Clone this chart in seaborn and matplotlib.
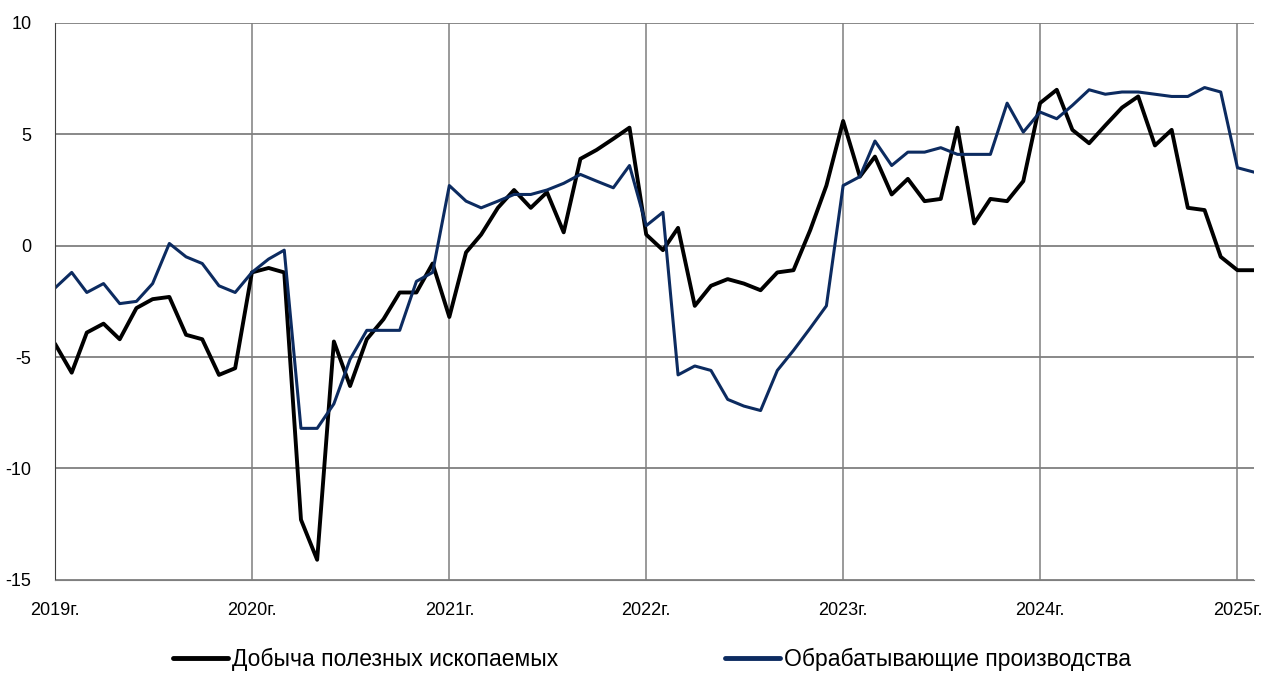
import matplotlib
matplotlib.use("Agg")
import matplotlib.pyplot as plt
import pandas as pd
import seaborn as sns

# monthly values, Jan 2019 .. Feb 2025
mining = [
    -4.4, -5.7, -3.9, -3.5, -4.2, -2.8, -2.4, -2.3, -4.0, -4.2, -5.8, -5.5,
    -1.2, -1.0, -1.2, -12.3, -14.1, -4.3, -6.3, -4.2, -3.3, -2.1, -2.1, -0.8,
    -3.2, -0.3, 0.5, 1.7, 2.5, 1.7, 2.4, 0.6, 3.9, 4.3, 4.8, 5.3,
    0.5, -0.2, 0.8, -2.7, -1.8, -1.5, -1.7, -2.0, -1.2, -1.1, 0.7, 2.7,
    5.6, 3.1, 4.0, 2.3, 3.0, 2.0, 2.1, 5.3, 1.0, 2.1, 2.0, 2.9,
    6.4, 7.0, 5.2, 4.6, 5.4, 6.2, 6.7, 4.5, 5.2, 1.7, 1.6, -0.5,
    -1.1, -1.1,
]
manufacturing = [
    -1.9, -1.2, -2.1, -1.7, -2.6, -2.5, -1.7, 0.1, -0.5, -0.8, -1.8, -2.1,
    -1.2, -0.6, -0.2, -8.2, -8.2, -7.1, -5.1, -3.8, -3.8, -3.8, -1.6, -1.2,
    2.7, 2.0, 1.7, 2.0, 2.3, 2.3, 2.5, 2.8, 3.2, 2.9, 2.6, 3.6,
    0.9, 1.5, -5.8, -5.4, -5.6, -6.9, -7.2, -7.4, -5.6, -4.7, -3.7, -2.7,
    2.7, 3.1, 4.7, 3.6, 4.2, 4.2, 4.4, 4.1, 4.1, 4.1, 6.4, 5.1,
    6.0, 5.7, 6.3, 7.0, 6.8, 6.9, 6.9, 6.8, 6.7, 6.7, 7.1, 6.9,
    3.5, 3.3,
]
series_names = ["Добыча полезных ископаемых", "Обрабатывающие производства"]
series_colors = ["#000000", "#0c2b60"]
years = [2019, 2020, 2021, 2022, 2023, 2024, 2025]
y_ticks = [10, 5, 0, -5, -10, -15]

months = pd.date_range("2019-01-01", periods=len(mining), freq="MS")
df = pd.concat([
    pd.DataFrame({"date": months, "value": mining, "series": series_names[0]}),
    pd.DataFrame({"date": months, "value": manufacturing, "series": series_names[1]}),
])

sns.set_style("white")
plt.rcParams["font.family"] = ["Liberation Sans", "DejaVu Sans"]
plt.rcParams["text.color"] = "black"
plt.rcParams["xtick.color"] = "black"
plt.rcParams["ytick.color"] = "black"

fig = plt.figure(figsize=(12.61, 6.75), dpi=100)
ax = fig.add_axes([0.0436, 0.141, 0.951, 0.825])

sns.lineplot(data=df, x="date", y="value", hue="series",
             palette=dict(zip(series_names, series_colors)),
             ax=ax, legend=False)
for line, lw in zip(ax.get_lines(), [2.8, 2.2]):
    line.set_linewidth(lw)

ax.set_xlim(months[0], months[-1])
ax.set_ylim(-15, 10)
ax.set_yticks(y_ticks)
ax.set_yticklabels([str(v) for v in y_ticks], fontsize=13)
year_dates = [pd.Timestamp(f"{y}-01-01") for y in years]
ax.set_xticks(year_dates)
ax.set_xticklabels([f"{y}г." for y in years], fontsize=13)
ax.tick_params(axis="x", length=0, pad=16)
ax.tick_params(axis="y", length=0, pad=17)

for v in y_ticks:
    ax.axhline(v, color="#7f7f7f", lw=1.3, zorder=0)
for d in year_dates:
    ax.axvline(d, color="#7f7f7f", lw=1.1, zorder=0)

for s in ["top", "right"]:
    ax.spines[s].set_visible(False)
ax.spines["left"].set_color("#404040")
ax.spines["bottom"].set_color("#7f7f7f")
ax.set_xlabel("")
ax.set_ylabel("")

handles = [plt.Line2D([], [], color=c, lw=3.5) for c in series_colors]
fig.legend(handles, series_names, loc="lower center", bbox_to_anchor=(0.517, -0.025),
           ncol=2, frameon=False, fontsize=16.5, handlelength=2.4, handletextpad=0.15,
           columnspacing=7.3)

fig.savefig("out.png", dpi=100)
